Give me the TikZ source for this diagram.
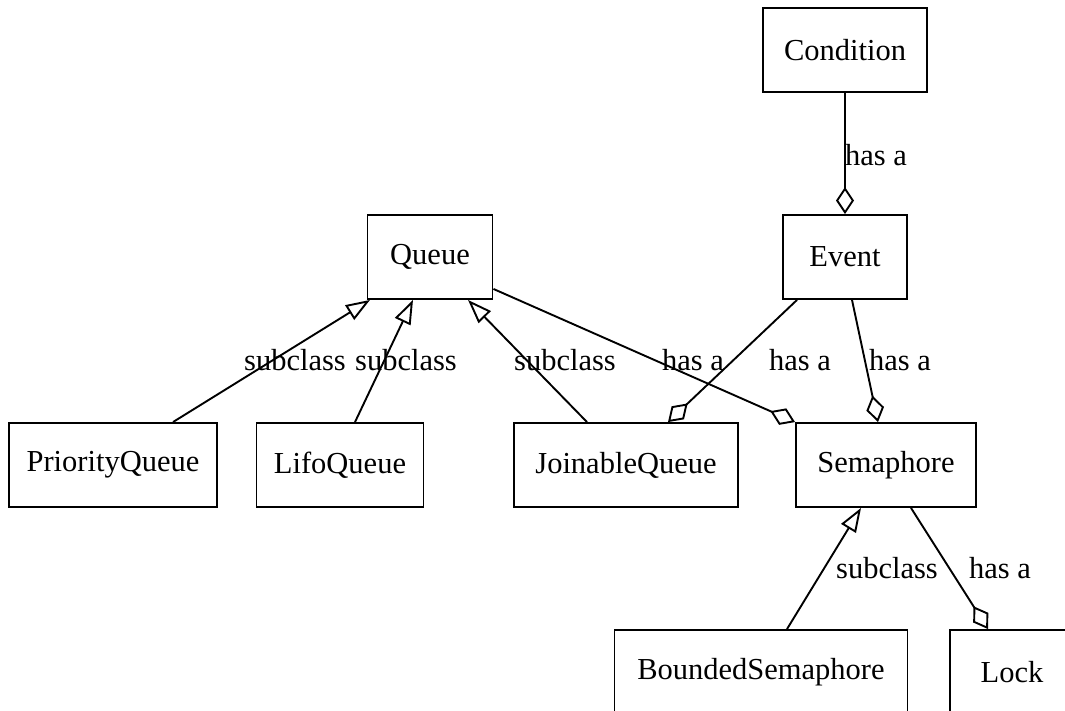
\documentclass[tikz,border=0pt]{standalone}
\usepackage{fontspec}
\setmainfont{Liberation Serif}
\usetikzlibrary{arrows.meta}
\begin{document}
\begin{tikzpicture}[x=1pt,y=-1pt,
  box/.style={draw,line width=1.9pt,inner sep=0pt,minimum height=84pt,font=\fontsize{30.5}{36}\selectfont},
  lbl/.style={inner sep=0pt,font=\fontsize{30.5}{36}\selectfont},
  sub/.style={line width=1.9pt,-{Triangle[open,length=24pt,width=17pt,line width=1.9pt]}},
  hasa/.style={line width=1.9pt,-{Diamond[open,length=27pt,width=18pt,line width=1.9pt]}}]
\clip (0,0) rectangle (1065,710);
\fill[white] (0,0) rectangle (1065,710);
\node[box,minimum width=164pt] (cond) at (845,50) {Condition};
\node[box,minimum width=124pt] (ev) at (845,257) {Event};
\node[box,minimum width=125pt] (q) at (430,257) {Queue};
\node[box,minimum width=208pt] (pq) at (113,465) {PriorityQueue};
\node[box,minimum width=167pt] (lq) at (340,465) {LifoQueue};
\node[box,minimum width=224pt] (jq) at (626,465) {JoinableQueue};
\node[box,minimum width=180pt] (sem) at (886,465) {Semaphore};
\node[box,minimum width=293pt] (bs) at (761,672) {BoundedSemaphore};
\node[box,minimum width=124pt] (lock) at (1012,672) {Lock};
\draw[hasa] (cond.south) -- (ev.north);
\draw[sub] ([xshift=60pt]pq.north) -- ([xshift=-60pt]q.south);
\draw[sub] ([xshift=15pt]lq.north) -- ([xshift=-17pt]q.south);
\draw[sub] ([xshift=-39pt]jq.north) -- ([xshift=38pt]q.south);
\draw[hasa] ([yshift=11pt]q.south east) -- (sem.north west);
\draw[hasa] ([xshift=-48pt]ev.south) -- ([xshift=42pt]jq.north);
\draw[hasa] ([xshift=7pt]ev.south) -- ([xshift=-8pt]sem.north);
\draw[sub] ([xshift=26pt]bs.north) -- ([xshift=-25pt]sem.south);
\draw[hasa] ([xshift=25pt]sem.south) -- ([xshift=-24pt]lock.north);
\node[lbl] (l1) at (876,155) {has a};
\node[lbl] (l2) at (295,360) {subclass};
\node[lbl] (l3) at (406,360) {subclass};
\node[lbl] (l4) at (565,360) {subclass};
\node[lbl] (l5) at (693,360) {has a};
\node[lbl] (l6) at (800,360) {has a};
\node[lbl] (l7) at (900,360) {has a};
\node[lbl] (l8) at (887,568) {subclass};
\node[lbl] (l9) at (1000,568) {has a};
\end{tikzpicture}
\end{document}
